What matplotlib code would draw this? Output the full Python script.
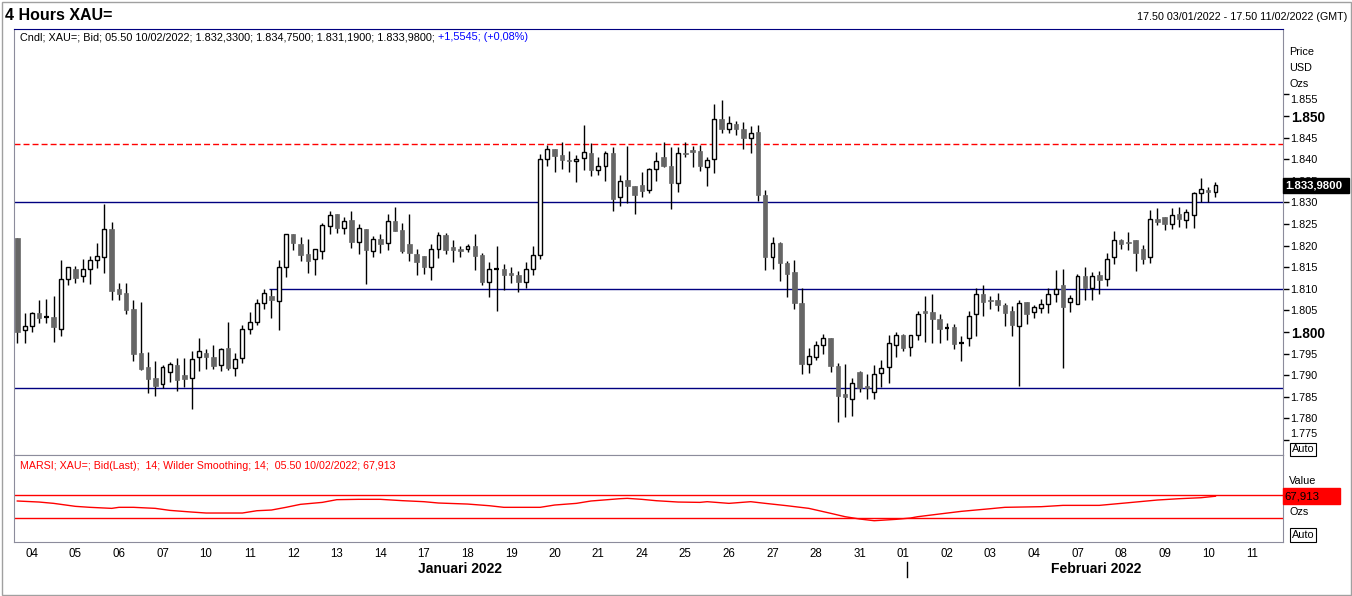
import numpy as np
import matplotlib
matplotlib.use("Agg")
import matplotlib.pyplot as plt
import matplotlib.transforms as mtransforms
from matplotlib.patches import Rectangle

plt.rcParams['font.family'] = ['Liberation Sans', 'DejaVu Sans']

# 4 hour candles, XAU=, 03/01/2022 17.50 -> 10/02/2022 05.50
opens = [1821.7, 1800.4, 1801.3, 1804.3, 1803.5, 1803.5, 1800.8, 1812.2, 1814.7, 1813.0,
         1814.7, 1816.6, 1817.3, 1823.8, 1810.0, 1809.0, 1805.3, 1795.1, 1791.9, 1789.3,
         1787.9, 1790.8, 1792.4, 1790.0, 1789.3, 1794.1, 1795.1, 1794.2, 1792.3, 1796.2,
         1791.6, 1793.9, 1800.8, 1802.4, 1806.6, 1808.3, 1807.1, 1815.0, 1822.8, 1820.4,
         1818.0, 1816.8, 1818.8, 1824.5, 1827.3, 1824.0, 1825.9, 1820.8, 1823.8, 1818.8,
         1821.5, 1820.5, 1825.7, 1823.6, 1820.4, 1818.1, 1817.6, 1815.1, 1819.1, 1822.5,
         1819.6, 1819.2, 1819.3, 1820.0, 1817.9, 1811.6, 1814.6, 1814.7, 1813.5, 1813.1,
         1811.6, 1814.5, 1817.8, 1840.0, 1842.3, 1841.0, 1839.7, 1839.5, 1840.2, 1841.5,
         1837.6, 1838.4, 1841.5, 1831.3, 1835.3, 1833.9, 1834.0, 1832.8, 1837.7, 1840.5,
         1838.4, 1834.6, 1841.3, 1842.1, 1841.9, 1838.3, 1840.0, 1849.2, 1846.9, 1848.1,
         1847.1, 1844.8, 1846.2, 1831.6, 1817.4, 1820.5, 1815.9, 1813.8, 1806.6, 1792.6,
         1794.3, 1797.1, 1798.5, 1792.1, 1785.6, 1784.6, 1790.7, 1787.3, 1786.0, 1790.4,
         1791.8, 1797.0, 1799.3, 1796.6, 1799.2, 1804.7, 1804.7, 1803.0, 1800.9, 1801.1,
         1797.5, 1798.5, 1804.1, 1808.8, 1807.4, 1807.4, 1806.3, 1804.9, 1801.5, 1806.9,
         1804.7, 1805.6, 1806.4, 1808.7, 1810.9, 1806.9, 1806.4, 1813.0, 1810.3, 1813.2,
         1812.2, 1817.3, 1821.3, 1820.7, 1821.3, 1819.2, 1817.4, 1826.1, 1826.7, 1825.1,
         1827.3, 1825.9, 1827.2, 1832.1, 1832.8, 1832.33]
highs = [1821.8, 1804.3, 1804.7, 1807.4, 1807.6, 1808.3, 1816.7, 1815.0, 1815.3, 1816.9,
         1817.5, 1820.7, 1829.6, 1825.4, 1811.3, 1811.3, 1807.4, 1806.9, 1795.3, 1793.3,
         1792.4, 1793.0, 1793.9, 1793.9, 1795.5, 1798.5, 1796.1, 1797.0, 1796.3, 1802.3,
         1795.1, 1801.6, 1804.6, 1807.7, 1809.9, 1809.9, 1816.7, 1822.8, 1822.8, 1821.9,
         1821.5, 1819.1, 1825.2, 1828.0, 1827.3, 1826.7, 1828.0, 1825.0, 1823.8, 1822.2,
         1822.7, 1827.3, 1828.9, 1825.2, 1827.3, 1819.1, 1817.6, 1820.4, 1823.1, 1823.0,
         1821.2, 1819.9, 1820.4, 1822.7, 1818.2, 1816.1, 1819.9, 1815.7, 1815.0, 1814.1,
         1816.1, 1819.8, 1841.1, 1843.4, 1842.3, 1843.9, 1841.9, 1840.9, 1847.9, 1843.7,
         1840.4, 1841.9, 1842.8, 1836.3, 1843.1, 1833.9, 1837.1, 1837.9, 1841.7, 1844.0,
         1842.8, 1842.8, 1843.9, 1843.1, 1843.3, 1840.4, 1852.8, 1853.7, 1850.0, 1848.8,
         1848.5, 1847.7, 1847.9, 1832.9, 1822.1, 1820.9, 1816.4, 1816.6, 1810.1, 1796.2,
         1797.9, 1799.5, 1798.5, 1792.9, 1792.7, 1789.3, 1791.0, 1790.2, 1792.4, 1793.5,
         1799.3, 1800.1, 1799.5, 1799.2, 1804.9, 1808.3, 1808.8, 1804.2, 1802.0, 1801.9,
         1799.1, 1804.9, 1810.3, 1810.9, 1808.3, 1809.1, 1806.8, 1806.0, 1807.3, 1806.9,
         1806.3, 1807.6, 1810.1, 1814.4, 1814.7, 1808.6, 1813.4, 1815.0, 1814.0, 1814.1,
         1818.2, 1823.4, 1821.5, 1823.2, 1821.3, 1820.1, 1828.2, 1828.6, 1826.7, 1828.6,
         1829.0, 1828.4, 1832.5, 1835.6, 1833.5, 1834.75]
lows = [1797.4, 1797.5, 1800.1, 1802.0, 1802.0, 1797.8, 1799.1, 1810.9, 1811.4, 1811.6,
        1811.2, 1814.9, 1813.7, 1807.3, 1807.3, 1804.2, 1793.4, 1791.2, 1785.8, 1785.3,
        1787.0, 1788.5, 1786.4, 1787.3, 1782.1, 1791.0, 1791.4, 1791.4, 1791.0, 1791.2,
        1789.8, 1792.9, 1799.5, 1801.6, 1805.4, 1803.3, 1800.5, 1812.8, 1819.0, 1816.5,
        1813.7, 1813.3, 1816.8, 1822.8, 1823.0, 1822.7, 1819.5, 1818.0, 1811.1, 1817.4,
        1818.4, 1819.0, 1823.4, 1818.4, 1816.4, 1813.3, 1813.4, 1812.0, 1817.2, 1818.1,
        1816.2, 1817.3, 1818.6, 1814.4, 1810.9, 1808.2, 1804.9, 1809.7, 1811.4, 1809.3,
        1810.1, 1813.2, 1817.0, 1838.5, 1837.1, 1837.8, 1837.1, 1834.8, 1837.5, 1836.2,
        1836.3, 1835.0, 1828.1, 1829.2, 1829.9, 1827.3, 1831.3, 1832.1, 1835.0, 1838.3,
        1828.5, 1832.5, 1840.4, 1838.3, 1837.3, 1833.9, 1836.9, 1846.0, 1846.1, 1845.5,
        1842.4, 1841.4, 1830.3, 1814.4, 1814.6, 1811.9, 1808.2, 1805.3, 1790.2, 1790.6,
        1793.5, 1794.9, 1790.8, 1779.2, 1780.4, 1780.6, 1786.0, 1784.4, 1784.6, 1787.3,
        1788.3, 1794.3, 1795.5, 1794.4, 1798.2, 1797.8, 1797.5, 1797.5, 1798.2, 1796.0,
        1793.4, 1796.8, 1799.1, 1803.7, 1805.3, 1804.9, 1801.5, 1799.1, 1787.6, 1801.9,
        1803.2, 1804.5, 1804.5, 1807.0, 1791.6, 1804.7, 1806.4, 1807.4, 1807.4, 1808.8,
        1810.6, 1815.7, 1819.1, 1819.0, 1814.2, 1815.7, 1816.0, 1824.8, 1823.6, 1823.8,
        1824.4, 1824.1, 1824.1, 1830.0, 1830.2, 1831.19]
closes = [1800.1, 1801.3, 1804.3, 1803.3, 1803.5, 1801.2, 1812.2, 1815.0, 1812.6, 1814.7,
          1816.6, 1817.5, 1823.8, 1809.6, 1808.9, 1805.0, 1794.8, 1791.4, 1789.2, 1787.6,
          1791.8, 1792.6, 1789.0, 1789.2, 1793.7, 1795.5, 1794.1, 1792.2, 1796.0, 1791.7,
          1793.7, 1800.6, 1802.4, 1806.6, 1809.0, 1807.3, 1815.1, 1822.8, 1820.5, 1817.9,
          1816.5, 1819.1, 1824.7, 1827.0, 1824.0, 1825.8, 1820.9, 1824.0, 1819.0, 1821.5,
          1820.4, 1825.8, 1823.4, 1818.8, 1818.2, 1816.1, 1815.1, 1819.1, 1822.5, 1819.0,
          1819.0, 1818.8, 1819.9, 1817.7, 1811.6, 1814.7, 1814.6, 1813.2, 1813.3, 1811.6,
          1814.5, 1817.8, 1840.0, 1842.3, 1840.8, 1839.9, 1839.5, 1840.0, 1841.7, 1837.5,
          1838.4, 1841.4, 1830.9, 1834.9, 1833.9, 1831.6, 1832.7, 1837.7, 1839.7, 1838.5,
          1834.6, 1841.4, 1841.1, 1841.7, 1838.5, 1839.8, 1849.2, 1847.1, 1848.3, 1847.1,
          1845.0, 1846.0, 1831.7, 1817.4, 1820.5, 1815.9, 1813.4, 1806.8, 1792.6, 1794.5,
          1797.1, 1798.5, 1792.1, 1785.3, 1784.9, 1788.3, 1787.1, 1787.1, 1790.2, 1791.6,
          1797.4, 1799.4, 1796.4, 1799.2, 1804.1, 1804.5, 1803.0, 1800.7, 1800.9, 1797.2,
          1797.5, 1803.7, 1808.8, 1807.0, 1807.2, 1806.3, 1804.5, 1801.6, 1806.6, 1804.2,
          1805.7, 1806.4, 1808.7, 1809.9, 1805.9, 1807.8, 1813.0, 1810.1, 1813.0, 1812.0,
          1816.8, 1821.3, 1820.4, 1820.5, 1818.4, 1816.8, 1826.1, 1825.5, 1825.0, 1827.2,
          1826.1, 1827.8, 1832.1, 1833.0, 1832.3, 1833.98]

# MARSI (14, Wilder smoothing): bar index, value
rsi_bar = [0, 3, 5, 8, 10, 13, 14, 16, 19, 21, 24, 26, 28, 31, 33, 35, 37, 39, 42, 44,
           47, 50, 53, 56, 58, 62, 65, 67, 72, 74, 77, 79, 83, 84, 86, 88, 91, 94, 95, 98,
           101, 103, 106, 109, 112, 114, 116, 118, 121, 123, 124, 127, 130, 134, 136, 141,
           144, 149, 153, 157, 160, 163, 165]
rsi_val = [59.6, 57.8, 55.5, 50.3, 48.6, 46.8, 48.6, 48.6, 46.8, 43.3, 40.4, 38.7, 38.7,
           38.7, 42.7, 43.9, 48.6, 53.8, 57.2, 61.9, 62.5, 62.5, 60.2, 58.4, 56.1, 54.3,
           51.4, 48.6, 48.6, 52.6, 55.5, 59.6, 63.6, 64.2, 62.5, 60.1, 57.8, 57.2, 58.4,
           55.5, 58.4, 55.5, 51.4, 46.8, 38.2, 32.3, 28.3, 25.3, 27.7, 30.0, 32.3, 37.0,
           41.6, 46.2, 48.6, 49.7, 52.0, 52.0, 56.6, 61.3, 63.6, 65.3, 67.913]

day_labels = ["04", "05", "06", "07", "10", "11", "12", "13", "14", "17", "18", "19", "20",
              "21", "24", "25", "26", "27", "28", "31", "01", "02", "03", "04", "07", "08",
              "09", "10", "11"]
month_labels = ["Januari 2022", "Februari 2022"]
month_pos = [61, 148.5]
month_break = 122.5

# horizontal levels drawn on the chart: price, start bar, colour, style
levels = [(1843.5, -1, "#ff0000", (0, (4.3, 2.2))),
          (1830.0, -1, "#000080", "-"),
          (1810.0, 34.7, "#000080", "-"),
          (1787.0, -1, "#000080", "-")]

W, H = 1352, 596
def fx(x):
    return x / W
def fy(y):
    return 1 - y / H

fig = plt.figure(figsize=(W / 100, H / 100), dpi=100)
fig.patch.set_facecolor("white")
fig.add_artist(Rectangle((fx(1.5), fy(594.5)), fx(1349), 593 / H, transform=fig.transFigure,
                         fill=False, edgecolor="#a0a0a0", linewidth=1))

ax1 = fig.add_axes([fx(14), fy(455), fx(1283 - 14), (455 - 29) / H])
ax2 = fig.add_axes([fx(14), fy(542), fx(1283 - 14), (542 - 455) / H])
px_ax = 1 / (1283 - 14)   # one pixel in axes-x units

n = len(closes)
xs = np.arange(n)
xlim = (-0.455, 174.3)

# candles
o = np.array(opens); c = np.array(closes); h = np.array(highs); l = np.array(lows)
ax1.vlines(xs, l, h, color="black", linewidth=1, zorder=2)
bw = 0.62
for i in range(n):
    lo, hi = min(o[i], c[i]), max(o[i], c[i])
    if abs(c[i] - o[i]) < 0.05:
        ax1.hlines(o[i], i - bw / 2, i + bw / 2, color="black", linewidth=1.6, zorder=3)
        continue
    hgt = max(hi - lo, 0.3)
    if c[i] > o[i]:
        ax1.bar(i, hgt, bottom=lo, width=bw - 0.08, facecolor="white", edgecolor="black",
                linewidth=1.0, zorder=3)
    else:
        ax1.bar(i, hgt, bottom=lo, width=bw, facecolor="#666666", edgecolor="#666666",
                linewidth=0.5, zorder=3)

for lev, start, col, ls in levels:
    x0 = xlim[0] if start < 0 else start
    ax1.hlines(lev, x0, xlim[1], color=col, linestyle=ls, linewidth=1, zorder=1.5)

ax1.set_xlim(*xlim)
ax1.set_ylim(1771.53, 1870.14)
ax1.set_xticks([])
ax1.yaxis.tick_right()
yt = np.arange(1775, 1856, 5)
ax1.set_yticks(yt)
ax1.set_yticklabels(["{:.3f}".format(v / 1000) for v in yt])
ax1.tick_params(axis="y", length=4, width=1, pad=1.5, labelsize=7.8, colors="black")
for t, v in zip(ax1.yaxis.get_major_ticks(), yt):
    if v in (1800, 1850):
        t.label2.set_fontsize(9.8)
        t.label2.set_fontweight("bold")
    if v == 1775:
        t.label2.set_transform(t.label2.get_transform() +
                               mtransforms.ScaledTranslation(0, 7 / 100, fig.dpi_scale_trans))
    if v == 1855:
        t.label2.set_transform(t.label2.get_transform() +
                               mtransforms.ScaledTranslation(0, -5 / 100, fig.dpi_scale_trans))
for s in ["left", "right", "bottom"]:
    ax1.spines[s].set_color("#8c8c9c")
ax1.spines["top"].set_color("#000080")

# last price box on the price scale
last = closes[-1]
lbl = "{:,.4f}".format(last).replace(",", "X").replace(".", ",").replace("X", ".")
bt1 = mtransforms.blended_transform_factory(ax1.transAxes, ax1.transData)
ax1.add_patch(Rectangle((1.0, last - 7.5 / 4.32), 66 * px_ax, 15 / 4.32, transform=bt1,
                        facecolor="black", edgecolor="black", clip_on=False, zorder=9))
ax1.text(1.0 + 2 * px_ax, last, lbl, transform=bt1, ha="left", va="center", color="white",
         fontsize=8.2, fontweight="bold", zorder=10, clip_on=False)

# header texts
fig.text(fx(5), fy(16), "4 Hours XAU=", fontsize=11.5, fontweight="bold", va="center", ha="left")
fig.text(fx(1347), fy(17), "17.50 03/01/2022 - 17.50 11/02/2022 (GMT)", fontsize=7.75,
         va="center", ha="right")
t1 = fig.text(fx(20), fy(37), "Cndl; XAU=; Bid; 05.50 10/02/2022; 1.832,3300; 1.834,7500; "
              "1.831,1900; 1.833,9800; ", fontsize=7.8, va="center", ha="left")
ax1.annotate("+1,5545; (+0,08%)", xy=(1, 0.5), xycoords=t1, va="center", ha="left",
             fontsize=7.8, color="#0000ff", annotation_clip=False)
for txt, yy in [("Price", 52), ("USD", 68), ("Ozs", 84)]:
    fig.text(fx(1289), fy(yy), txt, fontsize=7.8, va="center", ha="left")
fig.text(fx(1292), fy(449.5), "Auto", fontsize=7.8, va="center", ha="left",
         bbox=dict(boxstyle="square,pad=0.15", facecolor="white", edgecolor="black", linewidth=0.8))

# lower panel: MARSI
ax2.plot(rsi_bar, rsi_val, color="#ff0000", linewidth=1)
ax2.axhline(70, color="#ff0000", linewidth=1)
ax2.axhline(30, color="#ff0000", linewidth=1)
ax2.set_xlim(*xlim)
ax2.set_ylim(-11.7, 139.6)
ax2.set_yticks([])
for s in ax2.spines.values():
    s.set_color("#8c8c9c")
ax2.text(6 * px_ax, 0.87, "MARSI; XAU=; Bid(Last);  14; Wilder Smoothing; 14;  05.50 10/02/2022; 67,913",
         transform=ax2.transAxes, color="#ff0000", fontsize=7.7, va="center", ha="left")
bt2 = mtransforms.blended_transform_factory(ax2.transAxes, ax2.transData)
unit2 = 1 / 0.575   # rsi units per pixel
ax2.add_patch(Rectangle((1.0, rsi_val[-1] - 8 * unit2), 57 * px_ax, 16 * unit2, transform=bt2,
                        facecolor="#ff0000", edgecolor="#ff0000", clip_on=False, zorder=9))
ax2.text(1.0 + 1 * px_ax, rsi_val[-1], "67,913", transform=bt2, ha="left", va="center",
         color="black", fontsize=8.2, zorder=10, clip_on=False)
fig.text(fx(1289), fy(481), "Value", fontsize=7.8, va="center", ha="left")
fig.text(fx(1289), fy(512), "Ozs", fontsize=7.8, va="center", ha="left")
fig.text(fx(1292), fy(535), "Auto", fontsize=7.8, va="center", ha="left",
         bbox=dict(boxstyle="square,pad=0.15", facecolor="white", edgecolor="black", linewidth=0.8))

day_pos = [2 + 6 * k for k in range(len(day_labels))]
ax2.set_xticks(day_pos)
ax2.set_xticklabels(day_labels, family=["Liberation Sans Narrow", "Liberation Sans"], fontsize=8.3)
ax2.tick_params(axis="x", length=0, pad=4.5)

bt = mtransforms.blended_transform_factory(ax2.transData, ax2.transAxes)
for m, p in zip(month_labels, month_pos):
    ax2.text(p, -0.305, m, transform=bt, ha="center", va="center", fontsize=10, fontweight="bold",
             family=["Liberation Sans Narrow", "Liberation Sans"], clip_on=False)
ax2.plot([month_break, month_break], [-0.23, -0.40], transform=bt, color="black",
         linewidth=1, clip_on=False)

fig.savefig("out.png", dpi=100)
